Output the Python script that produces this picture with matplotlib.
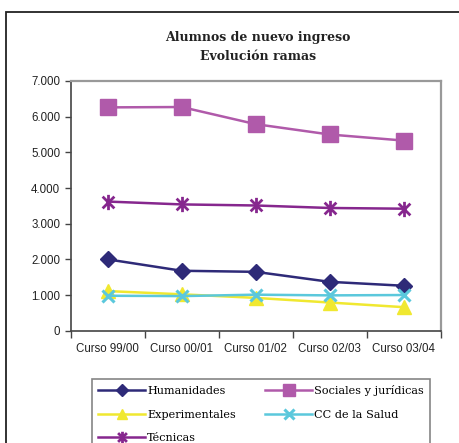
import matplotlib.pyplot as plt
from matplotlib.path import Path
from matplotlib.patches import Rectangle
from matplotlib.ticker import FixedLocator, FuncFormatter

cursos = ['Curso 99/00', 'Curso 00/01', 'Curso 01/02', 'Curso 02/03', 'Curso 03/04']
humanidades = [2000, 1680, 1650, 1370, 1260]
sociales = [6260, 6270, 5790, 5500, 5330]
experimentales = [1110, 1020, 920, 790, 660]
salud = [980, 970, 1010, 990, 1000]
tecnicas = [3620, 3540, 3510, 3440, 3420]

# marcador tipo asterisco de Excel (x + linea vertical)
star = Path([(-1, -1), (1, 1), (-1, 1), (1, -1), (0, -1.3), (0, 1.3)],
            [Path.MOVETO, Path.LINETO, Path.MOVETO, Path.LINETO, Path.MOVETO, Path.LINETO])

fig = plt.figure(figsize=(4.6, 4.43), dpi=100)
ax = fig.add_axes([0.1537, 0.2535, 0.804, 0.5637])

# marco exterior
fig.patches.append(Rectangle((6 / 460, -0.1), 1.2, 1.1 - 12 / 443, transform=fig.transFigure,
                             fill=False, edgecolor='#222222', linewidth=1.3))

x = list(range(len(cursos)))
h1, = ax.plot(x, humanidades, color='#2E2A78', marker='D', markersize=8, lw=1.8, label='Humanidades')
h2, = ax.plot(x, sociales, color='#B05AAA', marker='s', markersize=11, lw=1.8, label='Sociales y jurídicas')
h3, = ax.plot(x, experimentales, color='#F0E830', marker='^', markersize=10, lw=1.8, label='Experimentales')
h4, = ax.plot(x, salud, color='#5BC8DC', marker='x', markersize=9, mew=2.2, lw=1.8, label='CC de la Salud')
h5, = ax.plot(x, tecnicas, color='#86278E', marker=star, markersize=11, mew=2, lw=1.8, label='Técnicas')

ax.set_xlim(-0.5, 4.5)
ax.set_ylim(0, 7000)
ax.yaxis.set_major_locator(FixedLocator(range(0, 7001, 1000)))
ax.yaxis.set_major_formatter(FuncFormatter(lambda v, p: f'{int(v):,}'.replace(',', '.')))
ax.xaxis.set_major_locator(FixedLocator([-0.5, 0.5, 1.5, 2.5, 3.5, 4.5]))
ax.xaxis.set_major_formatter(FuncFormatter(lambda v, p: ''))
ax.xaxis.set_minor_locator(FixedLocator(x))
ax.set_xticklabels(cursos, minor=True)
ax.tick_params(axis='x', which='minor', length=0, pad=9)
ax.tick_params(axis='x', which='major', length=5, width=1, color='#444444')
ax.tick_params(axis='y', length=4, width=1, color='#444444')
for lab in ax.get_xticklabels(minor=True) + ax.get_yticklabels():
    lab.set_family('Liberation Sans')
    lab.set_fontsize(8.3)
    lab.set_color('#222222')

for s in ['left', 'bottom']:
    ax.spines[s].set_color('#444444')
    ax.spines[s].set_linewidth(1.2)
for s in ['top', 'right']:
    ax.spines[s].set_color('#999999')
    ax.spines[s].set_linewidth(1.6)

fig.text(0.561, 1 - 38 / 443, 'Alumnos de nuevo ingreso', ha='center', va='center',
         family='DejaVu Serif', weight='bold', fontsize=9, color='#222222')
fig.text(0.561, 1 - 57 / 443, 'Evolución ramas', ha='center', va='center',
         family='DejaVu Serif', weight='bold', fontsize=9, color='#222222')

# orden por filas como en el original
handles = [h1, h3, h5, h2, h4]
leg = fig.legend(handles, [h.get_label() for h in handles], loc='upper left',
                 bbox_to_anchor=(92 / 460, 1 - 379 / 443), ncol=2,
                 prop={'family': 'DejaVu Serif', 'size': 8.1}, frameon=True, fancybox=False,
                 edgecolor='#666666', handlelength=4.2, handletextpad=0.15, columnspacing=2.6,
                 borderpad=0.55, labelspacing=1.2, markerscale=0.75, borderaxespad=0)
leg.get_frame().set_linewidth(1.2)

fig.savefig('out.png', dpi=100)
